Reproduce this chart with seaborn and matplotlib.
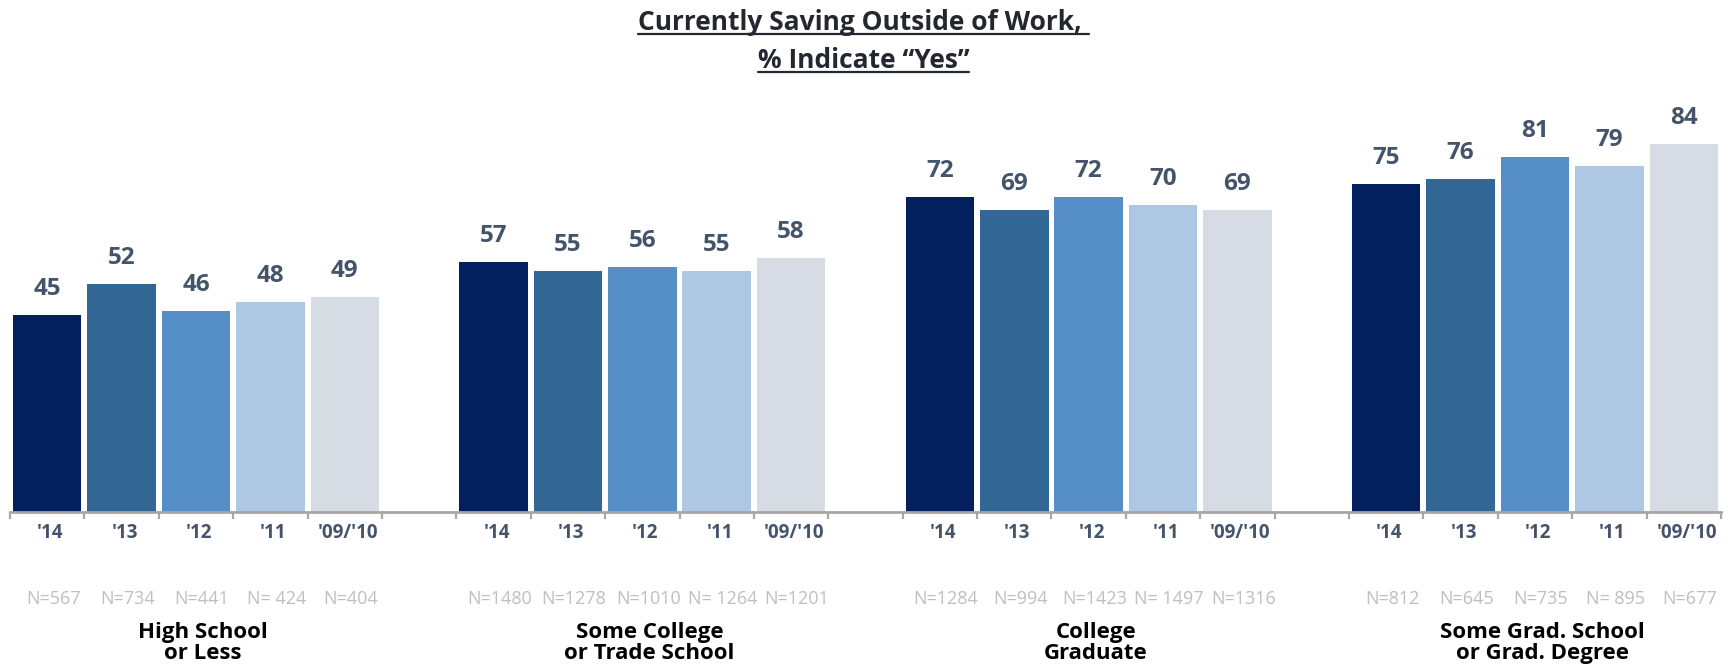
import numpy as np
import pandas as pd
import matplotlib
matplotlib.use("Agg")
import matplotlib.pyplot as plt
import seaborn as sns
from matplotlib.lines import Line2D

# ---- data -------------------------------------------------------------
groups = ["High School\nor Less", "Some College\nor Trade School",
          "College\nGraduate", "Some Grad. School\nor Grad. Degree"]
years = ["'14", "'13", "'12", "'11", "'09/'10"]

pct_high_school = [45, 52, 46, 48, 49]
pct_some_college = [57, 55, 56, 55, 58]
pct_college_grad = [72, 69, 72, 70, 69]
pct_grad_school = [75, 76, 81, 79, 84]

n_high_school = ["N=567", "N=734", "N=441", "N= 424", "N=404"]
n_some_college = ["N=1480", "N=1278", "N=1010", "N= 1264", "N=1201"]
n_college_grad = ["N=1284", "N=994", "N=1423", "N= 1497", "N=1316"]
n_grad_school = ["N=812", "N=645", "N=735", "N= 895", "N=677"]

year_colors = ["#03205E", "#336796", "#568EC8", "#AEC8E4", "#D7DBE3"]

title_lines = ["Currently Saving Outside of Work, ", "% Indicate \u201cYes\u201d"]

# ---- layout of categorical slots (one empty slot between groups) -------
all_pct = [pct_high_school, pct_some_college, pct_college_grad, pct_grad_school]
all_n = [n_high_school, n_some_college, n_college_grad, n_grad_school]

rows, order = [], []
for gi, g in enumerate(groups):
    for yi, y in enumerate(years):
        key = f"{gi}|{y}"
        order.append(key)
        rows.append({"slot": key, "group": g, "year": y,
                     "pct": all_pct[gi][yi], "n": all_n[gi][yi]})
    if gi < len(groups) - 1:
        order.append(f"gap{gi}")
df = pd.DataFrame(rows)
slot_pos = {k: i for i, k in enumerate(order)}

# ---- style ------------------------------------------------------------
sns.set_theme(style="white")
plt.rcParams["font.family"] = ["Open Sans", "DejaVu Sans"]

DPI = 100
W, H = 1733, 668
fig = plt.figure(figsize=(W / DPI, H / DPI), dpi=DPI)
ax = fig.add_axes([10 / W, (H - 512) / H, 1711 / W, 438 / H])

sns.barplot(data=df, x="slot", y="pct", hue="year", order=order,
            hue_order=years, palette=year_colors, dodge=False, width=0.92,
            saturation=1, linewidth=0, errorbar=None, legend=False, ax=ax)

ax.set_xlim(-0.5, len(order) - 0.5)
ax.set_ylim(0, 100)
ax.set_xlabel("")
ax.set_ylabel("")
ax.set_yticks([])
bounds = np.arange(-0.5, len(order), 1.0)
ax.set_xticks(bounds, labels=[""] * len(bounds))
ax.tick_params(axis="x", direction="out", length=5, width=1.6,
               color="#A6A6A6", bottom=True)
for s in ["top", "right", "left"]:
    ax.spines[s].set_visible(False)
ax.spines["bottom"].set_color("#A6A6A6")
ax.spines["bottom"].set_linewidth(2)

label_color = "#44546A"
px = 72 / DPI  # points per pixel

for _, r in df.iterrows():
    x = slot_pos[r["slot"]]
    # value above bar
    ax.annotate(f"{r['pct']}", xy=(x, r["pct"]), xytext=(0, 26 * px),
                textcoords="offset points", ha="center", va="center",
                fontsize=17.5, fontweight="bold", color=label_color)
    # year label below axis
    ax.annotate(r["year"], xy=(x, 0), xycoords=("data", "axes fraction"),
                xytext=(3 * px, -21 * px), textcoords="offset points",
                ha="center", va="center", fontsize=13.5, fontweight="bold",
                color=label_color)
    # sample size
    ax.annotate(r["n"], xy=(x, 0), xycoords=("data", "axes fraction"),
                xytext=(6 * px, -87 * px), textcoords="offset points",
                ha="center", va="center", fontsize=13, color="#BFBFBF")

for gi, g in enumerate(groups):
    center = slot_pos[f"{gi}|{years[2]}"]
    ax.annotate(g, xy=(center, 0), xycoords=("data", "axes fraction"),
                xytext=(7 * px, -131 * px), textcoords="offset points",
                ha="center", va="center", fontsize=16, fontweight="bold",
                color="black", linespacing=0.95)

# ---- underlined two-line title --------------------------------------
title_color = "#23272E"
baselines = [30, 68]
title_texts = []
for line, base in zip(title_lines, baselines):
    t = fig.text(0.5 * (635 + 1092) / W, 1 - base / H, line, ha="center",
                 va="baseline", fontsize=19, fontweight="bold",
                 color=title_color)
    title_texts.append(t)

fig.canvas.draw()
renderer = fig.canvas.get_renderer()
for t, base in zip(title_texts, baselines):
    bb = t.get_window_extent(renderer)
    y = 1 - (base + 4) / H
    fig.add_artist(Line2D([bb.x0 / W, bb.x1 / W], [y, y], color=title_color,
                          linewidth=1.6, transform=fig.transFigure))

fig.savefig("out.png", dpi=DPI)
